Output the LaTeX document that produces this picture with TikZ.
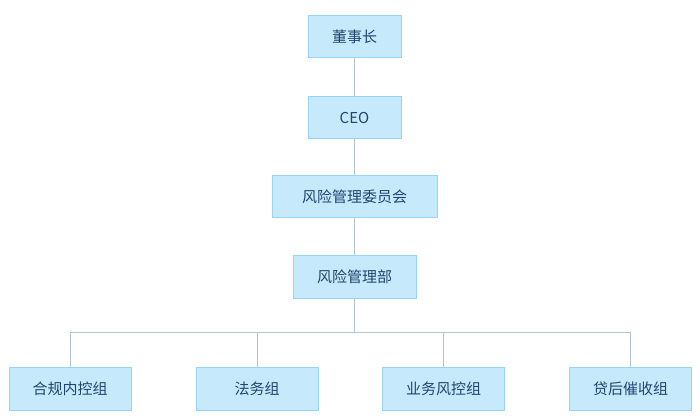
\documentclass[tikz,border=0pt]{standalone}
\usepackage{fontspec}
\setmainfont{Noto Sans CJK SC}
\usetikzlibrary{positioning}
\definecolor{boxfill}{RGB}{198,233,251}
\definecolor{boxline}{RGB}{150,212,245}
\definecolor{boxtext}{RGB}{32,70,110}
\definecolor{linkc}{RGB}{178,196,212}
\begin{document}
\begin{tikzpicture}[x=0.75pt,y=-0.75pt]
\tikzstyle{block} = [rectangle, draw=boxline, fill=boxfill, line width=0.75pt, text=boxtext, font=\fontsize{11.25}{13}\selectfont, minimum height=31.5pt, inner sep=0pt]
\tikzstyle{line} = [draw=linkc, line width=0.75pt]
\useasboundingbox (0,0) rectangle (700,420);
% top chain
\node [block, minimum width=69.75pt] (chairman) at (354.5,37) {董事长};
\node [block, minimum width=69.75pt, below=28.5pt of chairman] (ceo) {CEO};
\node [block, minimum width=123.75pt, below=27pt of ceo] (committee) {风险管理委员会};
\node [block, minimum width=92.25pt, minimum height=32.25pt, below=27.5pt of committee] (riskdept) {风险管理部};
% groups
\node [block, minimum width=91.5pt] (compliance) at (70,389) {合规内控组};
\node [block, minimum width=91.5pt] (legal) at (257,389) {法务组};
\node [block, minimum width=91.5pt] (bizrisk) at (443.5,389) {业务风控组};
\node [block, minimum width=91.5pt] (collect) at (630.5,389) {贷后催收组};
\coordinate (bus) at (354.5,333);
\draw [line] (chairman) -- (ceo);
\draw [line] (ceo) -- (committee);
\draw [line] (committee) -- (riskdept);
\draw [line] (riskdept) -- (bus);
\draw [line] (compliance) |- (bus);
\draw [line] (legal) |- (bus);
\draw [line] (bizrisk) |- (bus);
\draw [line] (collect) |- (bus);
\end{tikzpicture}
\end{document}
